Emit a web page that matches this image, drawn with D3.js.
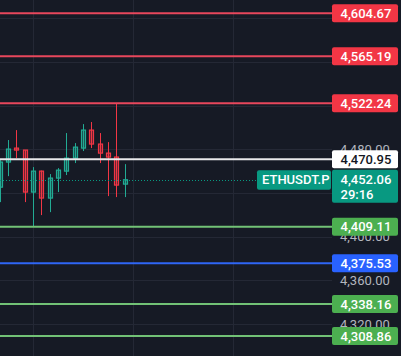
<!DOCTYPE html>
<html><head><meta charset="utf-8">
<script src="https://cdn.jsdelivr.net/npm/d3@7"></script>
<style>
html,body{margin:0;padding:0;background:#161a25;}
svg{display:block;}
text{font-family:Roboto,"Noto Sans",sans-serif;}
</style></head>
<body>
<svg id="c" width="401" height="356"></svg>
<script>
// ---- data ----
const candleIndex = d3.range(16);
const opens  = [4445.3,4468.3,4481.1,4479.3,4440.8,4460.0,4435.3,4453.6,4460.0,4471.9,4481.1,4497.6,4484.8,4476.5,4472.9,4448.1];
const highs  = [4470.0,4488.5,4497.6,4479.3,4463.7,4460.5,4457.3,4462.8,4494.9,4485.7,4503.1,4505.0,4494.9,4486.6,4522.24,4466.4];
const lows   = [4431.6,4455.4,4471.9,4431.6,4408.7,4419.7,4422.4,4440.8,4456.4,4467.4,4478.4,4481.1,4467.4,4437.1,4436.2,4436.2];
const closes = [4468.3,4480.2,4479.3,4440.8,4460.0,4435.3,4453.6,4460.9,4471.9,4482.0,4497.6,4484.8,4476.5,4472.9,4447.2,4452.06];
const levelPrices = [4604.67,4565.19,4522.24,4470.95,4409.11,4375.53,4338.16,4308.86];
const levelKinds  = ["res","res","res","white","sup","blue","sup","sup"];
const gridValues  = [4600,4560,4520,4480,4440,4400,4360,4320];
const tickLabelValues = [4480,4400,4360,4320];
const timeGridIndex = [4,16,28];
const symbol = "ETHUSDT.P";
const lastPrice = 4452.06;
const countdown = "29:16";

// ---- styles ----
const kindStyle = {
  res:  {line:"#e8475c", box:"#f23645", text:"#ffffff"},
  sup:  {line:"#72c276", box:"#4caf50", text:"#ffffff"},
  blue: {line:"#2f66f5", box:"#2962ff", text:"#ffffff"},
  white:{line:"#e8e8ea", box:"#ffffff", text:"#131722"}
};
const upCol = "#22ab94", downCol = "#f23645", lastCol = "#089981";

const svg = d3.select("#c");
const W = 401, H = 356, plotR = 332;
const fmt = d3.format(",.2f");

const y = d3.scaleLinear().domain([4308.86, 4604.67]).range([336, 13.3]);
const x = d3.scaleLinear().domain([0, 40]).range([-0.3, 332.9]);

// grid
const g = svg.append("g");
g.selectAll("line.hg").data(gridValues).join("line")
  .attr("x1",0).attr("x2",plotR)
  .attr("y1",d=>Math.round(y(d))+0.5).attr("y2",d=>Math.round(y(d))+0.5)
  .attr("stroke","#242835").attr("stroke-width",1);
g.selectAll("line.vg").data(timeGridIndex).join("line")
  .attr("x1",d=>Math.round(x(d))+0.5).attr("x2",d=>Math.round(x(d))+0.5)
  .attr("y1",0).attr("y2",H)
  .attr("stroke","#242835").attr("stroke-width",1);

// axis labels
const axis = d3.axisRight(y).tickValues(tickLabelValues).tickSize(0).tickPadding(8).tickFormat(fmt);
const ax = svg.append("g").attr("transform",`translate(${plotR},0)`).call(axis);
ax.select(".domain").remove();
ax.selectAll("text").attr("fill","#b2b5be").attr("font-size",13).attr("font-family","Roboto,sans-serif");

// candles
const cg = svg.append("g");
const cd = candleIndex.map(i=>({i,o:opens[i],h:highs[i],l:lows[i],c:closes[i]}));
cg.selectAll("line.w").data(cd).join("line")
  .attr("x1",d=>Math.round(x(d.i))+0.5).attr("x2",d=>Math.round(x(d.i))+0.5)
  .attr("y1",d=>y(d.h)).attr("y2",d=>y(d.l))
  .attr("stroke",d=>d.c>=d.o?upCol:downCol).attr("stroke-width",1);
cg.selectAll("rect.b").data(cd).join("rect")
  .attr("x",d=>Math.round(x(d.i))-1.5).attr("width",4)
  .attr("y",d=>y(Math.max(d.o,d.c))).attr("height",d=>Math.max(1,Math.abs(y(d.o)-y(d.c))))
  .attr("fill",d=>d.c>=d.o?upCol:downCol).attr("fill-opacity",0.35)
  .attr("stroke",d=>d.c>=d.o?upCol:downCol).attr("stroke-width",1.2);

// last price dotted line
svg.append("line").attr("x1",0).attr("x2",257)
  .attr("y1",Math.round(y(lastPrice))+0.5).attr("y2",Math.round(y(lastPrice))+0.5)
  .attr("stroke",lastCol).attr("stroke-width",1).attr("stroke-dasharray","1,2");

// level lines
const lv = levelPrices.map((p,k)=>({p,kind:levelKinds[k]}));
svg.append("g").selectAll("line").data(lv).join("line")
  .attr("x1",0).attr("x2",plotR)
  .attr("y1",d=>y(d.p)).attr("y2",d=>y(d.p))
  .attr("stroke",d=>kindStyle[d.kind].line).attr("stroke-width",2);

// level boxes
const bg = svg.append("g");
lv.forEach(d=>{
  const st = kindStyle[d.kind];
  const yc = y(d.p);
  bg.append("rect").attr("x",332).attr("y",yc-9).attr("width",66).attr("height",18).attr("rx",2)
    .attr("fill",st.box);
  bg.append("text").attr("x",340.5).attr("y",yc).attr("dy","0.36em")
    .attr("fill",st.text).attr("font-size",13).attr("font-weight",500).text(fmt(d.p));
});

// last price box
const ly = y(lastPrice);
bg.append("rect").attr("x",332).attr("y",ly-10).attr("width",66).attr("height",33).attr("rx",2).attr("fill",lastCol);
bg.append("text").attr("x",340.5).attr("y",ly).attr("dy","0.36em").attr("fill","#fff")
  .attr("font-size",13).attr("font-weight",500).text(fmt(lastPrice));
bg.append("text").attr("x",340.5).attr("y",ly+15).attr("dy","0.36em").attr("fill","#fff")
  .attr("font-size",13).attr("font-weight",500).text(countdown);
// symbol label
bg.append("rect").attr("x",257).attr("y",ly-9.5).attr("width",74).attr("height",19.5).attr("rx",2).attr("fill",lastCol);
bg.append("text").attr("x",262).attr("y",ly).attr("dy","0.36em").attr("fill","#fff")
  .attr("font-size",13).attr("font-weight",500).text(symbol);
</script>
</body></html>
